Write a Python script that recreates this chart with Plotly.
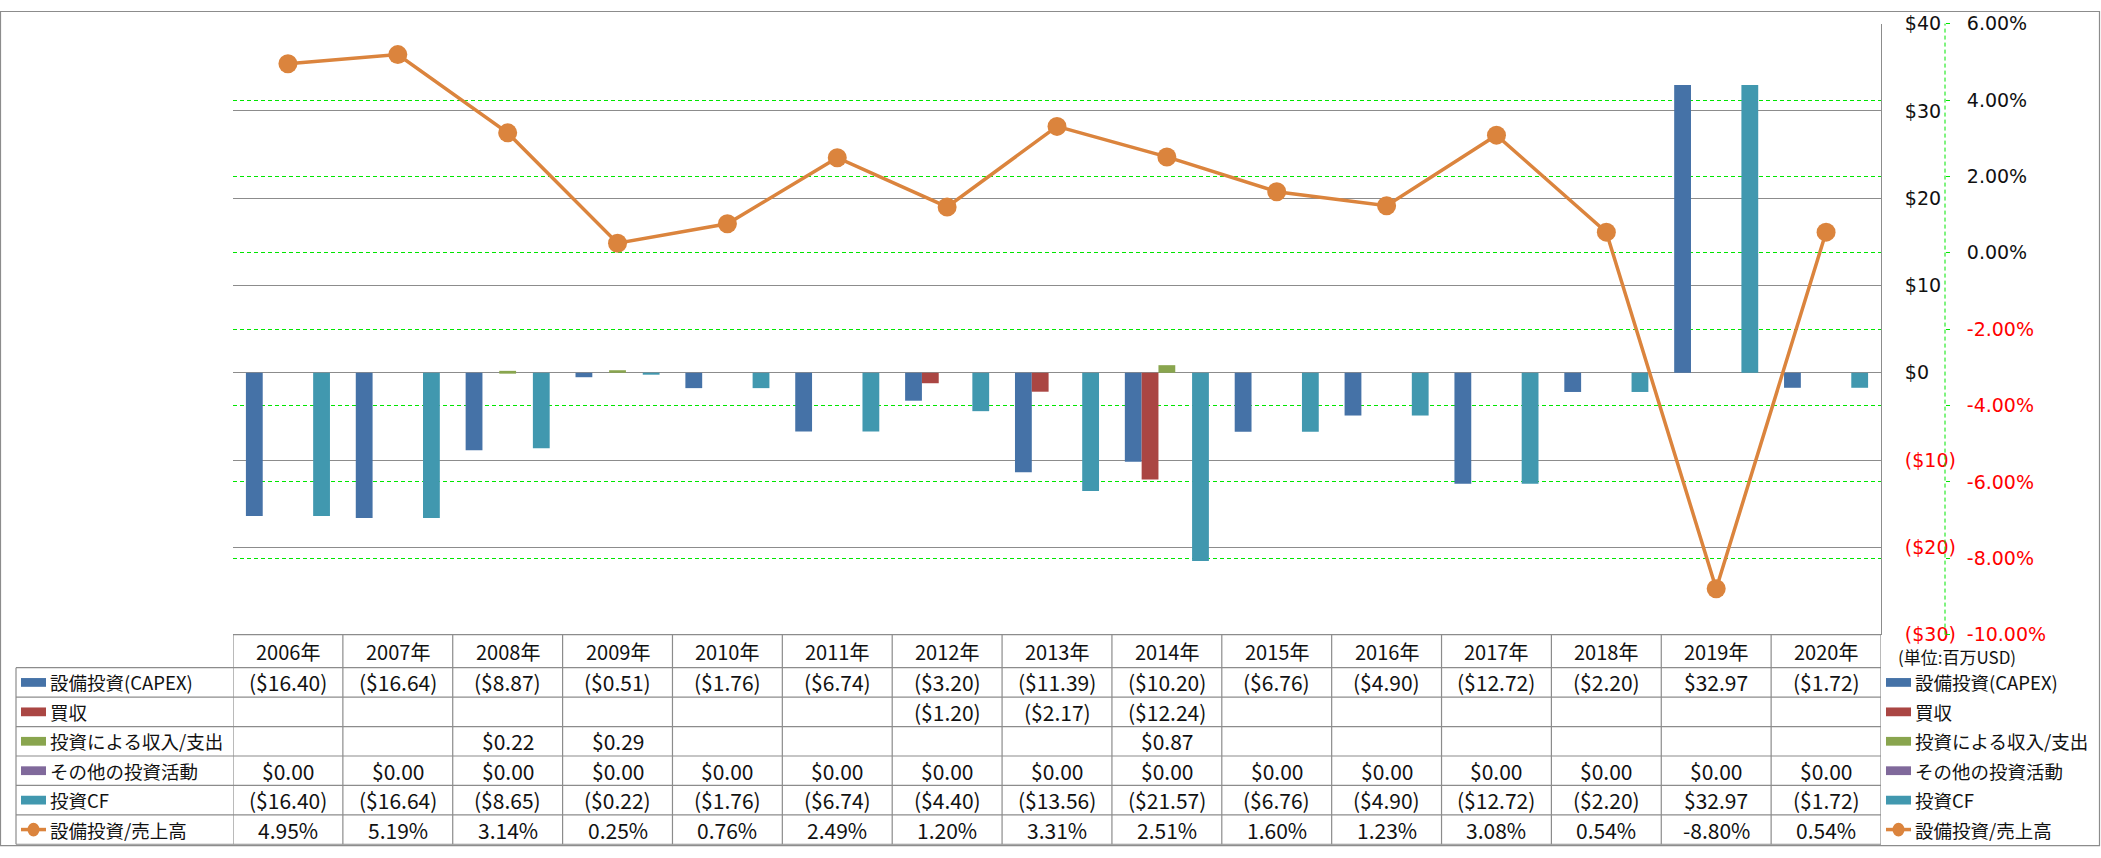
import plotly.graph_objects as go

W, H = 2101, 858

# ---------------- data ----------------
years = ["2006年", "2007年", "2008年", "2009年", "2010年", "2011年", "2012年", "2013年",
         "2014年", "2015年", "2016年", "2017年", "2018年", "2019年", "2020年"]
capex = [-16.40, -16.64, -8.87, -0.51, -1.76, -6.74, -3.20, -11.39, -10.20, -6.76, -4.90, -12.72, -2.20, 32.97, -1.72]
acquisition = [None, None, None, None, None, None, -1.20, -2.17, -12.24, None, None, None, None, None, None]
inv_income = [None, None, 0.22, 0.29, None, None, None, None, 0.87, None, None, None, None, None, None]
other_inv = [0.00, 0.00, 0.00, 0.00, 0.00, 0.00, 0.00, 0.00, 0.00, 0.00, 0.00, 0.00, 0.00, 0.00, 0.00]
inv_cf = [-16.40, -16.64, -8.65, -0.22, -1.76, -6.74, -4.40, -13.56, -21.57, -6.76, -4.90, -12.72, -2.20, 32.97, -1.72]
capex_ratio = [4.95, 5.19, 3.14, 0.25, 0.76, 2.49, 1.20, 3.31, 2.51, 1.60, 1.23, 3.08, 0.54, -8.80, 0.54]

series_names = ["設備投資(CAPEX)", "買収", "投資による収入/支出", "その他の投資活動", "投資CF", "設備投資/売上高"]
series_colors = ["#4572A7", "#AA4643", "#89A54E", "#80699B", "#4198AF", "#DB843D"]

usd_ticks = [-30, -20, -10, 0, 10, 20, 30, 40]
pct_ticks = [-10, -8, -6, -4, -2, 0, 2, 4, 6]
unit_label = "(単位:百万USD)"

# ---------------- helpers ----------------
def px(x):
    return x / W

def py(y):
    return 1 - y / H

RED = "#FF0000"
TXT = "#111111"
GRID = "#8C8C8C"
GREEN = "#00E600"
CJK = "Noto Sans CJK JP"
TICKFONT = "DejaVu Sans, Verdana, sans-serif"

def usd_fmt(v):
    if v is None:
        return ""
    if v < 0:
        return f"(${abs(v):.2f})"
    return f"${v:.2f}"

def usd_tick(v):
    if v < 0:
        return f'<span style="color:{RED}">(${abs(v)})</span>'
    return f"${v}"

def pct_tick(v):
    s = f"{v:.2f}%"
    if v < 0:
        return f'<span style="color:{RED}">{s}</span>'
    return s

# ---------------- figure ----------------
fig = go.Figure()
bar_data = [capex, acquisition, inv_income, other_inv, inv_cf]
for name, vals, col in zip(series_names[:5], bar_data, series_colors[:5]):
    fig.add_trace(go.Bar(x=years, y=vals, name=name, marker_color=col,
                         marker_line_width=0, yaxis="y"))

fig.add_trace(go.Scatter(x=years, y=capex_ratio, name=series_names[5], yaxis="y2",
                         mode="lines+markers",
                         line=dict(color=series_colors[5], width=3.5),
                         marker=dict(color=series_colors[5], size=19)))

PLOT_L, PLOT_R, PLOT_T, PLOT_B = 233, 1881, 13, 640

fig.update_layout(
    width=W, height=H, autosize=False,
    margin=dict(l=0, r=0, t=0, b=0),
    paper_bgcolor="white", plot_bgcolor="white",
    showlegend=False,
    barmode="group", bargap=0.235, bargroupgap=0,
    xaxis=dict(domain=[px(PLOT_L), px(PLOT_R)], showticklabels=False, showgrid=False,
               zeroline=False, showline=False, ticks="", range=[-0.5, 14.5]),
    yaxis=dict(domain=[py(PLOT_B), py(PLOT_T)], range=[-30, 40], side="right",
               tickvals=usd_ticks, ticktext=[usd_tick(v) for v in usd_ticks],
               showgrid=True, gridcolor=GRID, gridwidth=1, zeroline=False,
               showline=True, linecolor=GRID, linewidth=1, ticks="",
               ticklabelstandoff=19,
               tickfont=dict(family=TICKFONT, size=19, color=TXT)),
    yaxis2=dict(range=[-10, 6], overlaying="y", side="right", anchor="free",
                position=px(1945),
                tickvals=pct_ticks, ticktext=[pct_tick(v) for v in pct_ticks],
                showgrid=True, gridcolor=GREEN, gridwidth=1, griddash="4px,3px",
                zeroline=False, showline=False, ticks="outside", ticklen=4,
                tickcolor=GREEN, tickwidth=1, ticklabelstandoff=13,
                tickfont=dict(family=TICKFONT, size=19, color=TXT)),
)

shapes = []
annotations = []

# dashed green secondary axis line
shapes.append(dict(type="line", xref="paper", yref="paper", x0=px(1945), x1=px(1945),
                   y0=py(PLOT_B), y1=py(PLOT_T), line=dict(color=GREEN, width=1, dash="4px,3px")))

# outer chart border
shapes.append(dict(type="rect", xref="paper", yref="paper", x0=px(0.5), x1=px(W - 1.5),
                   y0=py(H - 1.5), y1=py(0.5), line=dict(color="#8C8C8C", width=1.2)))

# ---------------- data table ----------------
HDR_T, HDR_B = 640, 674
row_h = 30.2
rows_y = [HDR_B + i * row_h for i in range(7)]
TABLE_L = 16
n = len(years)

def text_ann(xref, x, yc, text, size, xanchor="center"):
    annotations.append(dict(xref=xref, yref="paper", x=x, y=py(yc), xanchor=xanchor,
                            yanchor="middle", text=text, showarrow=False,
                            font=dict(family=CJK, size=size, color=TXT)))

# horizontal lines
shapes.append(dict(type="line", xref="x", yref="paper", x0=-0.5, x1=n - 0.5,
                   y0=py(HDR_T), y1=py(HDR_T), line=dict(color=GRID, width=1.2)))
for yv in rows_y:
    shapes.append(dict(type="line", xref="paper", yref="paper", x0=px(TABLE_L), x1=px(PLOT_R),
                       y0=py(yv), y1=py(yv), line=dict(color=GRID, width=1.2)))
# vertical lines
shapes.append(dict(type="line", xref="paper", yref="paper", x0=px(TABLE_L), x1=px(TABLE_L),
                   y0=py(HDR_B), y1=py(rows_y[-1]), line=dict(color=GRID, width=1.2)))
for k in range(n + 1):
    shapes.append(dict(type="line", xref="x", yref="paper", x0=k - 0.5, x1=k - 0.5,
                       y0=py(HDR_T), y1=py(rows_y[-1]), line=dict(color=GRID, width=1.2)))

# header texts
for yr in years:
    text_ann("x", yr, (HDR_T + HDR_B) / 2, yr, 20)

# cell values
row_texts = [[usd_fmt(v) for v in capex],
             [usd_fmt(v) for v in acquisition],
             [usd_fmt(v) for v in inv_income],
             [usd_fmt(v) for v in other_inv],
             [usd_fmt(v) for v in inv_cf],
             [f"{v:.2f}%" for v in capex_ratio]]
for r, texts in enumerate(row_texts):
    yc = (rows_y[r] + rows_y[r + 1]) / 2
    for i, t in enumerate(texts):
        if t:
            text_ann("x", years[i], yc, t, 21)

# row labels (left) and legend (right)
def legend_key(x0, yc, idx):
    col = series_colors[idx]
    if idx < 5:
        shapes.append(dict(type="rect", xref="paper", yref="paper", x0=px(x0), x1=px(x0 + 25),
                           y0=py(yc + 4.5), y1=py(yc - 4.5), line=dict(width=0), fillcolor=col))
    else:
        shapes.append(dict(type="line", xref="paper", yref="paper", x0=px(x0), x1=px(x0 + 25),
                           y0=py(yc), y1=py(yc), line=dict(color=col, width=3.5)))
        shapes.append(dict(type="circle", xref="paper", yref="paper", x0=px(x0 + 6.5), x1=px(x0 + 18.5),
                           y0=py(yc + 7), y1=py(yc - 7), line=dict(width=0), fillcolor=col))

for r, name in enumerate(series_names):
    yc = (rows_y[r] + rows_y[r + 1]) / 2
    legend_key(21, yc, r)
    text_ann("paper", px(48), yc, name, 18.5, "left")
    legend_key(1886, yc, r)
    text_ann("paper", px(1913), yc, name, 18.5, "left")

# unit label
text_ann("paper", px(1896), 662, unit_label, 17, "left")

fig.update_layout(shapes=shapes, annotations=annotations)
fig.write_html("out.html")
